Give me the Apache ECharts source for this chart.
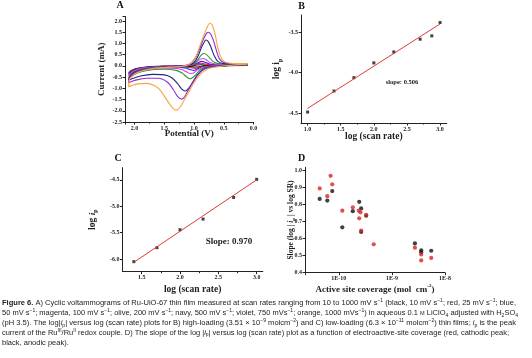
<!DOCTYPE html>
<html><head><meta charset="utf-8">
<script src="https://cdn.jsdelivr.net/npm/echarts@6/dist/echarts.min.js"></script>
<style>html,body{margin:0;padding:0;background:#fff}#c{width:532px;height:358px}</style>
</head><body><div id="c"></div>
<script>
// ---------- DATA ----------
// Panel A: cyclic voltammograms, [potential (V), current (mA)]
const cvNames = ['10 mV/s','25 mV/s','50 mV/s','100 mV/s','200 mV/s','500 mV/s','750 mV/s','1000 mV/s'];
const cv10 = [[0.1,0.02],[0.8,0.0],[0.98,-0.05],[1.15,-0.02],[1.5,-0.02],[1.8,-0.08],[2.0,-0.2],[2.1,-0.3],[2.08,-0.26],[2.0,-0.14],[1.8,-0.05],[1.5,-0.01],[1.1,0.0],[0.95,0.04],[0.88,0.05],[0.78,0.03],[0.1,0.03]];
const cv25 = [[0.1,0.03],[0.7,0.0],[0.9,-0.05],[0.98,-0.11],[1.05,-0.08],[1.2,-0.04],[1.5,-0.03],[1.8,-0.1],[2.0,-0.24],[2.1,-0.34],[2.08,-0.29],[2.0,-0.16],[1.8,-0.06],[1.5,-0.02],[1.2,0.0],[1.0,0.04],[0.93,0.1],[0.88,0.12],[0.8,0.08],[0.65,0.04],[0.1,0.04]];
const cv50 = [[0.1,0.03],[0.6,0.0],[0.88,-0.06],[0.96,-0.16],[1.0,-0.2],[1.06,-0.17],[1.15,-0.09],[1.35,-0.05],[1.6,-0.06],[1.8,-0.13],[2.0,-0.28],[2.1,-0.38],[2.08,-0.32],[2.0,-0.18],[1.85,-0.08],[1.6,-0.03],[1.3,-0.01],[1.05,0.02],[0.95,0.12],[0.87,0.2],[0.8,0.15],[0.72,0.07],[0.55,0.05],[0.1,0.05]];
const cv100 = [[0.1,0.04],[0.6,0.0],[0.85,-0.06],[0.95,-0.2],[1.02,-0.33],[1.06,-0.34],[1.12,-0.27],[1.22,-0.15],[1.4,-0.1],[1.6,-0.1],[1.8,-0.17],[2.0,-0.32],[2.1,-0.43],[2.08,-0.37],[2.0,-0.22],[1.85,-0.1],[1.6,-0.04],[1.3,-0.01],[1.05,0.03],[0.97,0.15],[0.9,0.29],[0.85,0.33],[0.8,0.28],[0.73,0.15],[0.63,0.08],[0.4,0.06],[0.1,0.06]];
const cv200 = [[0.1,0.04],[0.5,0.0],[0.8,-0.05],[0.9,-0.18],[0.98,-0.42],[1.04,-0.55],[1.07,-0.57],[1.12,-0.5],[1.2,-0.32],[1.3,-0.2],[1.5,-0.15],[1.7,-0.17],[1.9,-0.27],[2.05,-0.45],[2.1,-0.53],[2.08,-0.42],[2.0,-0.25],[1.85,-0.12],[1.6,-0.05],[1.35,-0.02],[1.1,0.02],[1.0,0.1],[0.93,0.3],[0.87,0.5],[0.83,0.55],[0.78,0.48],[0.72,0.3],[0.65,0.15],[0.55,0.09],[0.3,0.07],[0.1,0.07]];
const cv500 = [[0.1,0.05],[0.5,0.0],[0.75,-0.05],[0.85,-0.15],[0.95,-0.42],[1.05,-0.85],[1.12,-1.08],[1.15,-1.12],[1.2,-1.05],[1.28,-0.78],[1.38,-0.52],[1.5,-0.4],[1.7,-0.38],[1.9,-0.45],[2.05,-0.58],[2.1,-0.63],[2.08,-0.48],[2.0,-0.28],[1.85,-0.15],[1.65,-0.07],[1.45,-0.03],[1.25,0.0],[1.1,0.03],[1.0,0.15],[0.93,0.45],[0.87,0.85],[0.82,1.1],[0.8,1.15],[0.76,1.08],[0.71,0.8],[0.66,0.45],[0.6,0.2],[0.5,0.1],[0.3,0.08],[0.1,0.07]];
const cv750 = [[0.1,0.06],[0.5,0.0],[0.7,-0.05],[0.8,-0.12],[0.9,-0.3],[1.0,-0.65],[1.1,-1.1],[1.17,-1.42],[1.21,-1.48],[1.27,-1.38],[1.35,-1.05],[1.45,-0.72],[1.6,-0.55],[1.8,-0.55],[2.0,-0.65],[2.1,-0.75],[2.08,-0.52],[2.0,-0.32],[1.9,-0.2],[1.7,-0.1],[1.5,-0.05],[1.3,-0.02],[1.15,0.02],[1.05,0.12],[0.97,0.38],[0.9,0.8],[0.84,1.2],[0.79,1.45],[0.76,1.5],[0.72,1.42],[0.67,1.1],[0.62,0.65],[0.57,0.3],[0.5,0.15],[0.35,0.1],[0.1,0.09]];
const cv1000 = [[0.1,0.07],[0.4,0.02],[0.6,-0.04],[0.75,-0.12],[0.85,-0.28],[0.95,-0.55],[1.05,-0.98],[1.15,-1.45],[1.23,-1.82],[1.29,-1.97],[1.35,-1.9],[1.45,-1.55],[1.55,-1.15],[1.65,-0.9],[1.8,-0.78],[1.95,-0.8],[2.05,-0.88],[2.1,-0.93],[2.08,-0.6],[2.0,-0.38],[1.9,-0.25],[1.7,-0.12],[1.5,-0.07],[1.3,-0.04],[1.15,0.0],[1.05,0.12],[0.97,0.4],[0.9,0.9],[0.83,1.4],[0.77,1.78],[0.73,1.9],[0.69,1.8],[0.64,1.35],[0.6,0.8],[0.55,0.4],[0.5,0.2],[0.4,0.12],[0.25,0.1],[0.1,0.1]];

// Panel B: high loading
const bLogRate = [1.0,1.398,1.699,2.0,2.301,2.699,2.875,3.0];
const bLogIp = [-4.485,-4.226,-4.062,-3.88,-3.745,-3.588,-3.547,-3.383];
const bFitX = [1.0,3.0];
const bFitY = [-4.44,-3.40];
const bTicksX = [1.0,1.5,2.0,2.5,3.0];
const bMinorX = [1.25,1.75,2.25,2.75];
const bTicksY = [-4.5,-4.0,-3.5];

// Panel C: low loading
const cLogRate = [1.398,1.699,2.0,2.301,2.699,3.0];
const cLogIp = [-6.05,-5.785,-5.445,-5.243,-4.833,-4.49];
const cFitX = [1.4,3.0];
const cFitY = [-6.06,-4.50];
const cTicksX = [1.5,2.0,2.5,3.0];
const cMinorX = [1.75,2.25,2.75];
const cTicksY = [-6.0,-5.5,-5.0,-4.5];

// Panel D: slope vs coverage
const dCovRed = [4.35e-11,6.05e-11,6.98e-11,7.5e-11,1.16e-10,1.83e-10,2.37e-10,2.55e-10,2.42e-10,3.27e-10,2.63e-10,4.54e-10,2.71e-9,3.56e-9,3.56e-9,5.5e-9];
const dSlopeRed = [0.896,0.85,0.97,0.92,0.765,0.785,0.765,0.755,0.72,0.74,0.648,0.567,0.547,0.507,0.472,0.487];
const dCovBlack = [4.35e-11,6.05e-11,7.5e-11,1.16e-10,1.83e-10,2.42e-10,2.63e-10,2.63e-10,3.27e-10,2.71e-9,3.56e-9,3.56e-9,5.5e-9];
const dSlopeBlack = [0.834,0.824,0.88,0.667,0.762,0.817,0.778,0.64,0.735,0.572,0.532,0.52,0.529];
const dTicksY = [0.4,0.5,0.6,0.7,0.8,0.9,1.0];

// ---------- STYLE ----------
const cvColors = ['#111111','#e8202a','#2a2af0','#e040e0','#2e9b3a','#26267a','#8e2bd8','#f7a541'];
const SERIF = '"Liberation Serif","DejaVu Serif",serif';
const tickLbl = {fontFamily: SERIF, fontWeight: 'bold', fontSize: 6, color: '#222', margin: 3};
const axLine = {show: true, onZero: false, lineStyle: {color: '#222', width: 1}};
const subRich = {
  i: {fontFamily: SERIF, fontWeight: 'bold', fontStyle: 'italic', fontSize: 9},
  sub: {fontFamily: SERIF, fontWeight: 'bold', fontSize: 6, verticalAlign: 'bottom', lineHeight: 12},
  sup: {fontFamily: SERIF, fontWeight: 'bold', fontSize: 5, verticalAlign: 'top', lineHeight: 12}
};
const fmt1 = v => v.toFixed(1);
const fmtHalf = v => (Math.abs(v * 2 - Math.round(v * 2)) < 1e-6 ? v.toFixed(1) : '');

function valAxis(grid, min, max, ticks, name, nameGap, extra) {
  return Object.assign({
    type: 'value', gridIndex: grid, min: min, max: max,
    axisLine: axLine, splitLine: {show: false},
    axisTick: {show: true, inside: false, length: 2.5, customValues: ticks, lineStyle: {color: '#222'}},
    axisLabel: Object.assign({customValues: ticks, formatter: fmt1}, tickLbl),
    name: name, nameLocation: 'middle', nameGap: nameGap, nameMoveOverlap: false,
    nameTextStyle: {fontFamily: SERIF, fontWeight: 'bold', fontSize: 9.5, color: '#222', rich: subRich}
  }, extra || {});
}
function minorAxis(grid, min, max, ticks) {
  return {type: 'value', gridIndex: grid, min: min, max: max, position: 'bottom',
    axisLine: {show: false, onZero: false}, splitLine: {show: false}, axisLabel: {show: false},
    axisTick: {show: true, length: 1.5, customValues: ticks, lineStyle: {color: '#222'}}};
}

const cvData = [cv10, cv25, cv50, cv100, cv200, cv500, cv750, cv1000];
const series = [];
cvData.forEach((d, k) => series.push({
  type: 'line', name: cvNames[k], xAxisIndex: 0, yAxisIndex: 0, data: d,
  smooth: 0.35, showSymbol: false, lineStyle: {color: cvColors[k], width: 1.1}, z: 2 + k
}));
series.push({type: 'line', xAxisIndex: 1, yAxisIndex: 1, data: bFitX.map((x, i) => [x, bFitY[i]]),
  showSymbol: false, lineStyle: {color: '#e03a3a', width: 1}});
series.push({type: 'scatter', xAxisIndex: 1, yAxisIndex: 1, data: bLogRate.map((x, i) => [x, bLogIp[i]]),
  symbol: 'rect', symbolSize: 3, itemStyle: {color: '#111'}});
series.push({type: 'line', xAxisIndex: 3, yAxisIndex: 2, data: cFitX.map((x, i) => [x, cFitY[i]]),
  showSymbol: false, lineStyle: {color: '#e03a3a', width: 1}});
series.push({type: 'scatter', xAxisIndex: 3, yAxisIndex: 2, data: cLogRate.map((x, i) => [x, cLogIp[i]]),
  symbol: 'rect', symbolSize: 3, itemStyle: {color: '#111'}});
series.push({type: 'scatter', xAxisIndex: 5, yAxisIndex: 3, data: dCovBlack.map((x, i) => [x, dSlopeBlack[i]]),
  symbolSize: 4.2, itemStyle: {color: '#111'}});
series.push({type: 'scatter', xAxisIndex: 5, yAxisIndex: 3, data: dCovRed.map((x, i) => [x, dSlopeRed[i]]),
  symbolSize: 4.2, itemStyle: {color: '#d92327'}});

const CAPF = '"Liberation Sans","DejaVu Sans",sans-serif';
const CS = 7.5;
const capStyle = {fontFamily: CAPF, fontSize: CS, fill: '#222', lineHeight: 9.5, verticalAlign: 'middle'};
const capRich = {
  b: {fontWeight: 'bold', fontFamily: CAPF, fontSize: CS, lineHeight: 9.5},
  sup: {fontSize: 5, verticalAlign: 'top', lineHeight: 9.5, fontFamily: CAPF},
  sub: {fontSize: 5, verticalAlign: 'bottom', lineHeight: 9.5, fontFamily: CAPF},
  sc: {fontSize: 5.6, lineHeight: 9.5, fontFamily: CAPF},
  i: {fontStyle: 'italic', fontSize: CS, lineHeight: 9.5, fontFamily: CAPF}
};
const captionLines = [
  '{b|Figure 6.} A) Cyclic voltammograms of Ru-UiO-67 thin film measured at scan rates ranging from 10 to 1000 mV s{sup|−1} (black, 10 mV s{sup|−1}; red, 25 mV s{sup|−1}; blue,',
  '50 mV s{sup|−1}; magenta, 100 mV s{sup|−1}; olive, 200 mV s{sup|−1}; navy, 500 mV s{sup|−1}; violet, 750 mVs{sup|−1}; orange, 1000 mVs{sup|−1}) in aqueous 0.1 {sc|M} LiClO{sub|4} adjusted with H{sub|2}SO{sub|4}',
  '(pH 3.5). The log|{i|i}{sub|p}| versus log (scan rate) plots for B) high-loading (3.51 × 10{sup|−9} molcm{sup|−2}) and C) low-loading (6.3 × 10{sup|−11} molcm{sup|−2}) thin films; {i|i}{sub|p} is the peak',
  'current of the Ru{sup|III}/Ru{sup|II} redox couple. D) The slope of the log |{i|i}{sub|p}| versus log (scan rate) plot as a function of electroactive-site coverage (red, cathodic peak;',
  'black, anodic peak).'
];
const captionEnds = [516, 518, 516, 509, 0];
const capX = 2;
const scales = captionLines.map((t, i) => {
  if (!captionEnds[i]) return null;
  const el = new echarts.graphic.Text({style: Object.assign({text: t, rich: capRich}, capStyle)});
  const w = el.getBoundingRect().width;
  return w > 0 ? (captionEnds[i] - capX) / w : 1;
});
const valid = scales.filter(s => s);
const avgScale = valid.reduce((a, b) => a + b, 0) / valid.length;
const graphics = captionLines.map((t, i) => ({
  type: 'text', x: capX, y: 303.3 + i * 9.8, scaleX: scales[i] || avgScale, scaleY: 1, silent: true,
  style: Object.assign({text: t, rich: capRich}, capStyle)
}));
const panelLbl = [['A', 120, 5], ['B', 301.5, 6.5], ['C', 118, 158], ['D', 301.5, 158]];
panelLbl.forEach(p => graphics.push({type: 'text', x: p[1], y: p[2], silent: true,
  style: {text: p[0], fontFamily: SERIF, fontWeight: 'bold', fontSize: 10, fill: '#111', align: 'center', verticalAlign: 'middle'}}));
graphics.push({type: 'text', x: 402, y: 82, silent: true,
  style: {text: 'slope: 0.506', fontFamily: SERIF, fontWeight: 'bold', fontSize: 6.5, fill: '#222', align: 'center', verticalAlign: 'middle'}});
graphics.push({type: 'text', x: 229, y: 241.5, silent: true,
  style: {text: 'Slope: 0.970', fontFamily: SERIF, fontWeight: 'bold', fontSize: 9, fill: '#222', align: 'center', verticalAlign: 'middle'}});

const option = {
  animation: false,
  backgroundColor: '#fff',
  grid: [
    {left: 125, top: 16.5, width: 128.5, height: 105.5},
    {left: 301, top: 15, width: 145.7, height: 108},
    {left: 122.5, top: 167.7, width: 140.3, height: 104},
    {left: 305, top: 167.3, width: 140, height: 105.4}
  ],
  xAxis: [
    {type: 'value', gridIndex: 0, min: 0, max: 2.16, interval: 0.5, inverse: true, position: 'bottom',
      axisLine: axLine, splitLine: {show: false},
      axisTick: {show: true, length: 2.5, lineStyle: {color: '#222'}},
      minorTick: {show: true, splitNumber: 2, length: 1.5, lineStyle: {color: '#222'}},
      axisLabel: Object.assign({formatter: fmtHalf}, tickLbl),
      name: 'Potential (V)', nameLocation: 'middle', nameGap: 7.5, nameMoveOverlap: false,
      nameTextStyle: {fontFamily: SERIF, fontWeight: 'bold', fontSize: 9, color: '#222'}},
    valAxis(1, 0.9, 3.1, bTicksX, 'log (scan rate)', 8.5, {position: 'bottom'}),
    minorAxis(1, 0.9, 3.1, bMinorX),
    valAxis(2, 1.25, 3.08, cTicksX, 'log (scan rate)', 13, {position: 'bottom'}),
    minorAxis(2, 1.25, 3.08, cMinorX),
    {type: 'log', gridIndex: 3, min: 2.3e-11, max: 1e-8, logBase: 10, position: 'bottom',
      axisLine: axLine, splitLine: {show: false},
      axisTick: {show: true, length: 2.5, lineStyle: {color: '#222'}},
      axisLabel: Object.assign({formatter: v => {const e = Math.log10(v); return Math.abs(e - Math.round(e)) < 0.01 ? '1E' + Math.round(e) : '';}}, tickLbl),
      name: 'Active site coverage (mol  cm{sup|-2})', nameLocation: 'middle', nameGap: 11, nameMoveOverlap: false,
      nameTextStyle: {fontFamily: SERIF, fontWeight: 'bold', fontSize: 9, color: '#222', rich: subRich}}
  ],
  yAxis: [
    {type: 'value', gridIndex: 0, min: -2.5, max: 2.2, interval: 0.5, position: 'left',
      axisLine: axLine, splitLine: {show: false},
      axisTick: {show: true, length: 2.5, lineStyle: {color: '#222'}},
      axisLabel: Object.assign({formatter: fmtHalf}, tickLbl),
      name: 'Current (mA)', nameLocation: 'middle', nameGap: 19, nameMoveOverlap: false,
      nameTextStyle: {fontFamily: SERIF, fontWeight: 'bold', fontSize: 9, color: '#222'}},
    valAxis(1, -4.62, -3.29, bTicksY, 'log i{sub|p}', 18, {position: 'left'}),
    valAxis(2, -6.24, -4.27, cTicksY, 'log {i|i}{sub|p}', 24, {position: 'left'}),
    valAxis(3, 0.4, 1.02, dTicksY, 'Slope (log | {i|i}{sub|p} | vs log SR)', 9,
      {position: 'left', nameTextStyle: {fontFamily: SERIF, fontWeight: 'bold', fontSize: 7.5, color: '#222',
        rich: {i: {fontFamily: SERIF, fontWeight: 'bold', fontStyle: 'italic', fontSize: 7.5},
               sub: {fontFamily: SERIF, fontWeight: 'bold', fontSize: 5, verticalAlign: 'bottom', lineHeight: 10}}}})
  ],
  series: series,
  graphic: graphics
};
const chart = echarts.init(document.getElementById('c'), null, {renderer: 'canvas'});
chart.setOption(option);
</script></body></html>
